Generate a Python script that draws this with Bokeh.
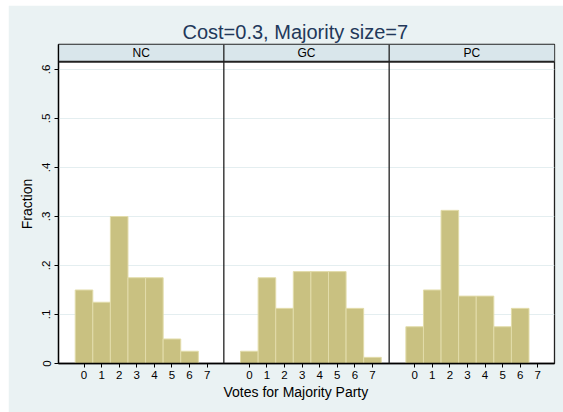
from bokeh.plotting import figure
from bokeh.models import ColumnDataSource, Range1d, FixedTicker, Span, Title
from bokeh.embed import file_html
from bokeh.resources import INLINE

# datos (fraccion de grupos por numero de votos)
votos = [0, 1, 2, 3, 4, 5, 6, 7]
paneles = ["NC", "GC", "PC"]
frac_nc = [0.15, 0.125, 0.3, 0.175, 0.175, 0.05, 0.025, 0.0]
frac_gc = [0.025, 0.175, 0.1125, 0.1875, 0.1875, 0.1875, 0.1125, 0.0125]
frac_pc = [0.075, 0.15, 0.3125, 0.1375, 0.1375, 0.075, 0.1125, 0.0]
y_ticks = [0, 0.1, 0.2, 0.3, 0.4, 0.5, 0.6]
y_labels = ["0", ".1", ".2", ".3", ".4", ".5", ".6"]
titulo = "Cost=0.3, Majority size=7"
etiqueta_x = "Votes for Majority Party"

# geometria de los paneles (unidades de datos)
ANCHO_PANEL = 9.4
X_MIN, X_MAX = -1.45, 7.95
Y_TOP_PANEL = 0.616
Y_TOP = 0.651

FONT = "Liberation Sans"
COLOR_BARRA = "#c9c181"
COLOR_BORDE = "#e2dcaa"
FONDO = "#eaf2f3"
FRANJA = "#d9e6eb"

p = figure(width=555, height=407, output_backend="svg", toolbar_location=None,
           x_range=Range1d(X_MIN, 2 * ANCHO_PANEL + X_MAX), y_range=Range1d(0, Y_TOP),
           min_border_left=50, min_border_right=9, min_border_top=39, min_border_bottom=49,
           background_fill_color="white", border_fill_color=FONDO, margin=(5, 0, 0, 8))

# titulo alineado a la izquierda con desplazamiento (centrado sobre todo el grafico)
p.title.text = titulo
p.title.align = "left"
p.title.text_font = FONT
p.title.text_font_size = "20px"
p.title.text_font_style = "normal"
p.title.text_color = "#22385a"
p.title.offset = 124
p.title.standoff = 3

x_ticks = []
x_overrides = {}
for k, (nombre, fracs) in enumerate(zip(paneles, [frac_nc, frac_gc, frac_pc])):
    off = k * ANCHO_PANEL
    src = ColumnDataSource(dict(x=[round(off + v, 3) for v in votos], top=fracs))
    p.vbar(x="x", top="top", bottom=0, width=1, source=src,
           fill_color=COLOR_BARRA, line_color=COLOR_BORDE, line_width=1)
    for v in votos:
        t = round(off + v, 3)
        x_ticks.append(t)
        x_overrides[t] = str(v)
    # franja con el nombre del panel
    p.quad(left=off + X_MIN, right=off + X_MAX, bottom=Y_TOP_PANEL, top=Y_TOP,
           fill_color=FRANJA, line_color=None)
    p.text(x=[off + (X_MIN + X_MAX) / 2], y=[(Y_TOP_PANEL + Y_TOP) / 2], text=[nombre],
           text_align="center", text_baseline="middle", text_font_size="12px",
           text_font={"value": FONT}, text_color="black")
    if k > 0:
        p.add_layout(Span(location=off + X_MIN, dimension="height",
                          line_color="#222222", line_width=1.3))

p.add_layout(Span(location=Y_TOP_PANEL, dimension="width", line_color="#222222", line_width=2))

p.outline_line_color = "#222222"
p.outline_line_width = 1.3
p.xgrid.visible = False
p.ygrid.ticker = FixedTicker(ticks=y_ticks)
p.ygrid.grid_line_color = "#e4eef0"

p.xaxis.ticker = FixedTicker(ticks=x_ticks)
p.xaxis.major_label_overrides = x_overrides
p.yaxis.ticker = FixedTicker(ticks=y_ticks)
p.yaxis.major_label_overrides = dict(zip(y_ticks, y_labels))
p.yaxis.major_label_orientation = "vertical"

p.yaxis.axis_label = "Fraction"
for ax in [p.xaxis[0], p.yaxis[0]]:
    ax.axis_line_color = "black"
    ax.axis_line_width = 1.3
    ax.major_tick_line_color = "black"
    ax.major_tick_in = 0
    ax.major_tick_out = 4
    ax.minor_tick_line_color = None
    ax.major_label_text_font = FONT
    ax.major_label_text_font_size = "11.5px"
    ax.major_label_text_color = "black"
    ax.axis_label_text_font = FONT
    ax.axis_label_text_font_size = "14px"
    ax.axis_label_text_font_style = "normal"
    ax.axis_label_text_color = "black"
p.xaxis.major_label_standoff = 3
p.yaxis.major_label_standoff = 4
p.yaxis.axis_label_standoff = 5

# etiqueta del eje x, desplazada como en el original
p.add_layout(Title(text=etiqueta_x, align="left", offset=165, standoff=0,
                   text_font=FONT, text_font_size="14px", text_font_style="normal",
                   text_color="black"), "below")

open("out.html", "w").write(file_html(p, INLINE))
